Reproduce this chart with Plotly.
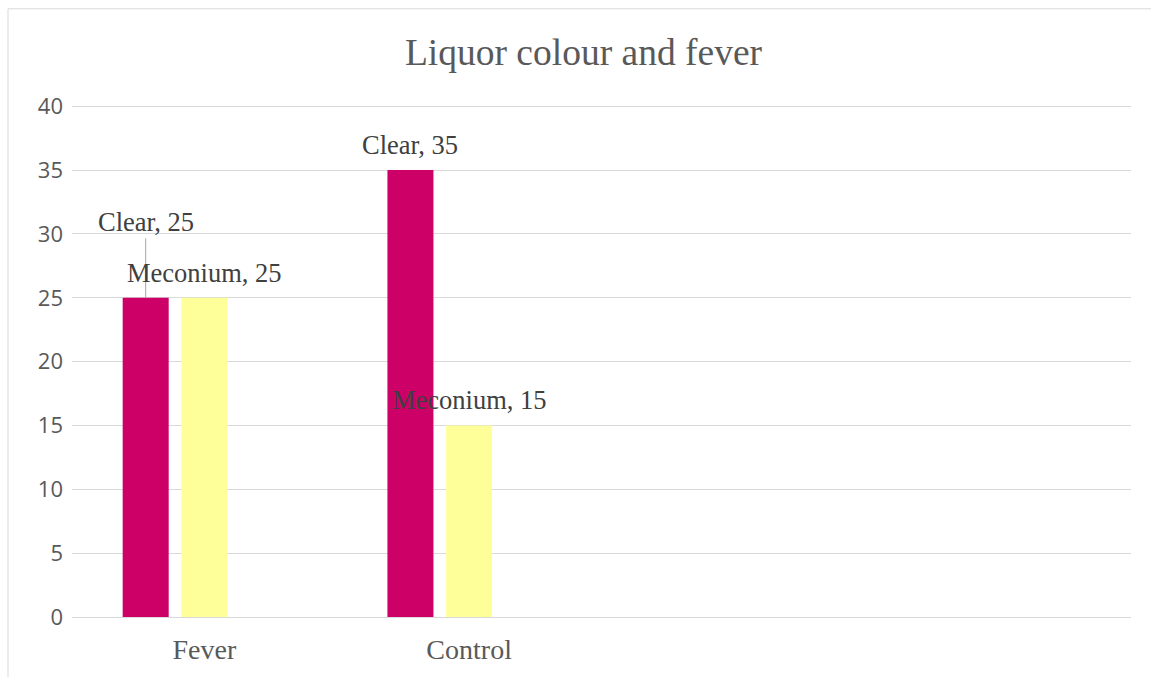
import plotly.graph_objects as go

# Chart data
categories = ["Fever", "Control"]
series_names = ["Clear", "Meconium", ""]
clear_values = [25, 35]
meconium_values = [25, 15]
third_values = [None, None]
series_colors = ["#CC0066", "#FFFF99", "#A5A5A5"]

y_ticks = [0, 5, 10, 15, 20, 25, 30, 35, 40]

BARGAP = 0.335
BARGROUPGAP = 0.216

x_pos = list(range(len(categories)))
all_values = [clear_values, meconium_values, third_values]

fig = go.Figure()
for name, vals, col in zip(series_names, all_values, series_colors):
    fig.add_trace(go.Bar(
        x=x_pos, y=vals, name=name, marker=dict(color=col, line=dict(width=0)),
        showlegend=False, hoverinfo="skip",
    ))

# Data labels: "Series, value" above each bar
slot = (1 - BARGAP) / len(series_names)
label_font = dict(family="Liberation Serif", size=26.5, color="#404040")
for si, (name, vals) in enumerate(zip(series_names[:2], all_values[:2])):
    offset = (si - (len(series_names) - 1) / 2) * slot
    for ci, v in enumerate(vals):
        if v is None:
            continue
        xx = x_pos[ci] + offset
        text = f"{name}, {v}"
        if name == "Clear" and categories[ci] == "Fever":
            # label moved up, connected to its bar with a leader line
            fig.add_annotation(
                x=xx, y=v, xref="x", yref="y", text=text, font=label_font,
                showarrow=True, arrowhead=0, arrowwidth=1, arrowcolor="#A6A6A6",
                ax=0, ay=-76, standoff=0, startstandoff=0,
            )
        else:
            fig.add_annotation(
                x=xx, y=v, xref="x", yref="y", text=text, font=label_font,
                showarrow=False, yanchor="middle", yshift=25,
            )

# Outer chart-area border
fig.add_shape(type="rect", xref="paper", yref="paper",
              x0=(8 - 72) / 1059, x1=1.2, y0=-0.3, y1=(617 - 10) / 511,
              line=dict(color="#D9D9D9", width=1), fillcolor="rgba(0,0,0,0)",
              layer="below")

fig.update_layout(
    width=1151, height=677,
    margin=dict(l=72, r=20, t=105, b=60),
    paper_bgcolor="white", plot_bgcolor="white",
    barmode="group", bargap=BARGAP, bargroupgap=BARGROUPGAP,
    title=dict(text="Liquor colour and fever", x=(583.5 - 72) / 1059, xref="paper",
               xanchor="center", y=1 - 52 / 677, yanchor="middle",
               font=dict(family="Liberation Serif", size=37.5, color="#595959")),
    xaxis=dict(range=[-0.5, 3.5], tickvals=x_pos, ticktext=categories,
               showgrid=False, zeroline=False, showline=False, ticks="",
               tickfont=dict(family="Liberation Serif", size=28, color="#595959"),
               ticklabelstandoff=13),
    yaxis=dict(range=[0, 40.1], tickvals=y_ticks, showgrid=True, gridcolor="#D9D9D9",
               gridwidth=1, zeroline=True, zerolinecolor="#D9D9D9", zerolinewidth=1,
               showline=False, ticks="",
               tickfont=dict(family="Open Sans", size=22, color="#595959"),
               ticklabelstandoff=8),
)

fig.write_html("out.html")
